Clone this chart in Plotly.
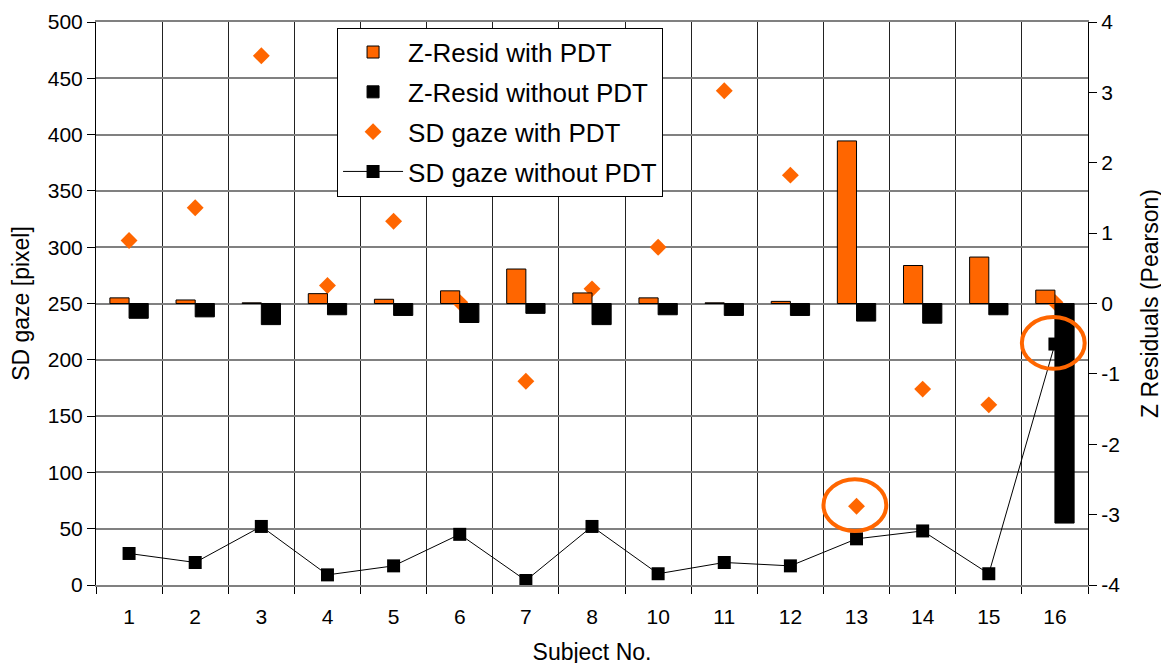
import plotly.graph_objects as go

subjects = ["1", "2", "3", "4", "5", "6", "7", "8", "10", "11", "12", "13", "14", "15", "16"]
z_with_pdt = [0.08, 0.05, 0.01, 0.14, 0.06, 0.18, 0.49, 0.15, 0.08, 0.01, 0.03, 2.31, 0.54, 0.66, 0.19]
z_without_pdt = [-0.21, -0.19, -0.30, -0.16, -0.17, -0.27, -0.14, -0.30, -0.16, -0.17, -0.17, -0.25, -0.28, -0.16, -3.12]
sd_with_pdt = [306, 335, 470, 266, 323, 251, 181, 263, 300, 439, 364, 70, 174, 160, 251]
sd_without_pdt = [28, 20, 52, 9, 17, 45, 4, 52, 10, 20, 17, 41, 48, 10, 214]
z_ticks = [-4, -3, -2, -1, 0, 1, 2, 3, 4]

# highlighted points: (subject, series)
highlights = [("13", "with"), ("16", "without")]

ORANGE = "#FF6600"
FONT = "Liberation Sans, Arial, sans-serif"
xs = list(range(len(subjects)))
bw = 0.29

fig = go.Figure()
fig.add_trace(go.Bar(x=xs, y=z_with_pdt, yaxis="y2", name="Z-Resid with PDT",
                     width=bw, offset=-bw, marker=dict(color=ORANGE, line=dict(color="black", width=1)),
                     legendgroup="a"))
fig.add_trace(go.Bar(x=xs, y=z_without_pdt, yaxis="y2", name="Z-Resid without PDT",
                     width=bw, offset=0, marker=dict(color="black", line=dict(color="black", width=1)),
                     legendgroup="b"))
fig.add_trace(go.Scatter(x=xs, y=sd_with_pdt, mode="markers", name="SD gaze with PDT",
                         marker=dict(symbol="diamond", size=13, color=ORANGE), legendgroup="c"))
fig.add_trace(go.Scatter(x=xs, y=sd_without_pdt, mode="lines+markers", name="SD gaze without PDT",
                         line=dict(color="black", width=1),
                         marker=dict(symbol="square", size=13, color="black"), legendgroup="d"))

shapes = []
for subj, ser in highlights:
    i = subjects.index(subj)
    yv = sd_with_pdt[i] if ser == "with" else sd_without_pdt[i]
    shapes.append(dict(type="circle", xref="x", yref="y", x0=i - 0.5, x1=i + 0.45,
                       y0=yv - 22, y1=yv + 24, line=dict(color=ORANGE, width=4), layer="above"))

fig.update_layout(
    width=1169, height=663,
    margin=dict(l=88, r=89, t=14, b=86),
    paper_bgcolor="white", plot_bgcolor="white",
    font=dict(family=FONT, size=20, color="black"),
    showlegend=True,
    legend=dict(x=0.243, y=0.99, xanchor="left", yanchor="top",
                bgcolor="white", bordercolor="black", borderwidth=1,
                font=dict(size=26), traceorder="grouped", tracegroupgap=3,
                itemwidth=60),
    shapes=shapes,
    xaxis=dict(range=[-0.5, len(subjects) - 0.5], tickmode="array", tickvals=xs, ticktext=subjects,
               ticks="", showgrid=False, zeroline=False, automargin=False,
               showline=True, linecolor="#808080", linewidth=2, mirror=True,
               ticklabelstandoff=12,
               minor=dict(tickmode="array", tickvals=[i - 0.5 for i in range(len(subjects) + 1)],
                          ticks="outside", ticklen=7, tickcolor="black", showgrid=True,
                          gridcolor="#222222", gridwidth=1),
               title=dict(text="Subject No.", font=dict(size=23), standoff=17),
               tickfont=dict(size=21)),
    yaxis=dict(range=[0, 500], dtick=50, showgrid=True, gridcolor="#808080", gridwidth=1.5,
               zeroline=False, showline=True, linecolor="black", linewidth=1, automargin=False,
               ticks="outside", ticklen=8, tickcolor="black",
               title=dict(text="SD gaze [pixel]", font=dict(size=23), standoff=12),
               tickfont=dict(size=21)),
    yaxis2=dict(range=[-4, 4], tickmode="array", tickvals=z_ticks, ticktext=[str(v) for v in z_ticks],
                overlaying="y", side="right", showgrid=False, automargin=False,
                zeroline=False, showline=True, linecolor="black", linewidth=1,
                ticks="outside", ticklen=8, tickcolor="black",
                title=dict(text="Z Residuals (Pearson)", font=dict(size=23), standoff=22),
                tickfont=dict(size=21)),
)

fig.write_html("out.html")
